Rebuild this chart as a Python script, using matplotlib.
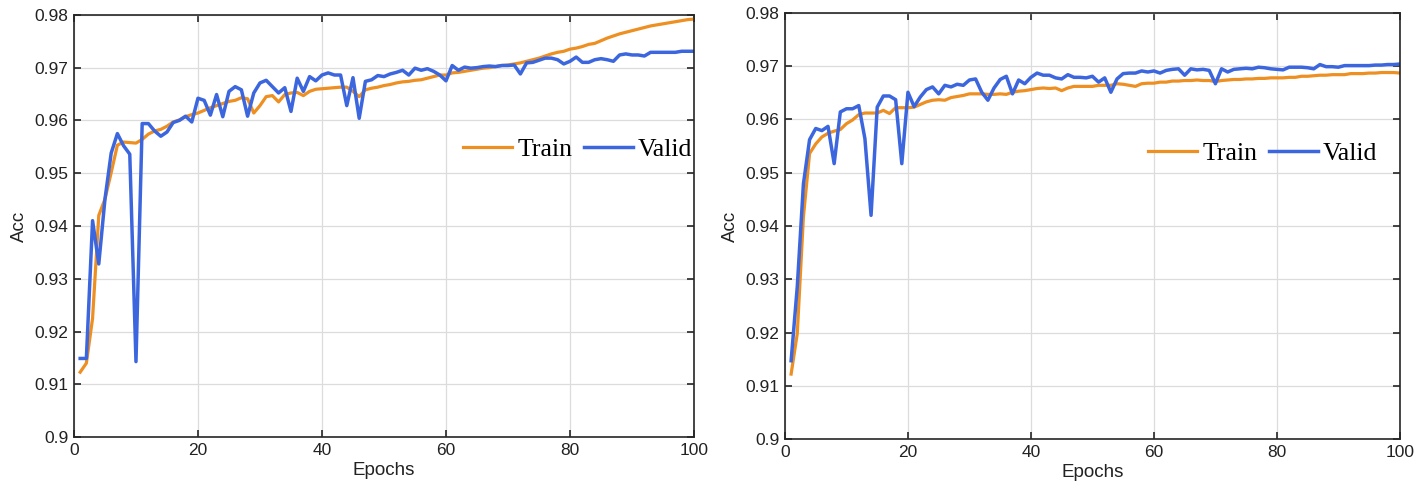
import numpy as np
import matplotlib
matplotlib.use("Agg")
import matplotlib.pyplot as plt
from matplotlib.ticker import FuncFormatter

# Epochs 1..100
epochs = np.arange(1, 101)

# Left panel
train_a = [0.9123, 0.9140, 0.9225, 0.9420, 0.9451, 0.9501, 0.9553, 0.9559, 0.9558, 0.9557,
           0.9564, 0.9574, 0.9580, 0.9583, 0.9589, 0.9597, 0.9601, 0.9607, 0.9611, 0.9614,
           0.9619, 0.9624, 0.9628, 0.9632, 0.9636, 0.9638, 0.9643, 0.9641, 0.9614, 0.9628,
           0.9645, 0.9647, 0.9635, 0.9649, 0.9652, 0.9653, 0.9647, 0.9655, 0.9659, 0.9660,
           0.9661, 0.9662, 0.9663, 0.9663, 0.9655, 0.9645, 0.9658, 0.9661, 0.9663, 0.9666,
           0.9668, 0.9671, 0.9673, 0.9674, 0.9676, 0.9677, 0.9680, 0.9683, 0.9686, 0.9686,
           0.9690, 0.9691, 0.9693, 0.9695, 0.9697, 0.9699, 0.9700, 0.9702, 0.9704, 0.9705,
           0.9707, 0.9709, 0.9712, 0.9715, 0.9718, 0.9722, 0.9726, 0.9729, 0.9731, 0.9735,
           0.9737, 0.9740, 0.9744, 0.9746, 0.9751, 0.9756, 0.9760, 0.9764, 0.9767, 0.9770,
           0.9773, 0.9776, 0.9779, 0.9781, 0.9783, 0.9785, 0.9787, 0.9789, 0.9791, 0.9792]
valid_a = [0.9149, 0.9149, 0.9410, 0.9328, 0.9451, 0.9538, 0.9575, 0.9552, 0.9536, 0.9143,
           0.9594, 0.9594, 0.9580, 0.9570, 0.9578, 0.9596, 0.9600, 0.9608, 0.9597, 0.9642,
           0.9638, 0.9610, 0.9649, 0.9607, 0.9655, 0.9664, 0.9658, 0.9608, 0.9652, 0.9671,
           0.9676, 0.9664, 0.9652, 0.9662, 0.9617, 0.9680, 0.9655, 0.9683, 0.9675, 0.9686,
           0.9690, 0.9686, 0.9686, 0.9628, 0.9681, 0.9604, 0.9674, 0.9677, 0.9685, 0.9683,
           0.9688, 0.9691, 0.9695, 0.9686, 0.9699, 0.9695, 0.9698, 0.9693, 0.9686, 0.9675,
           0.9704, 0.9695, 0.9701, 0.9699, 0.9700, 0.9702, 0.9703, 0.9702, 0.9704, 0.9704,
           0.9705, 0.9688, 0.9709, 0.9710, 0.9714, 0.9718, 0.9718, 0.9715, 0.9707, 0.9712,
           0.9720, 0.9710, 0.9710, 0.9715, 0.9717, 0.9715, 0.9712, 0.9724, 0.9726, 0.9724,
           0.9724, 0.9722, 0.9729, 0.9729, 0.9729, 0.9729, 0.9729, 0.9731, 0.9731, 0.9731]

# Right panel
train_b = [0.9122, 0.9198, 0.9417, 0.9536, 0.9554, 0.9567, 0.9574, 0.9578, 0.9581, 0.9592,
           0.9599, 0.9609, 0.9612, 0.9612, 0.9612, 0.9617, 0.9611, 0.9622, 0.9622, 0.9622,
           0.9623, 0.9628, 0.9633, 0.9636, 0.9637, 0.9636, 0.9641, 0.9643, 0.9645, 0.9648,
           0.9648, 0.9648, 0.9647, 0.9647, 0.9648, 0.9647, 0.9651, 0.9653, 0.9654, 0.9656,
           0.9658, 0.9659, 0.9658, 0.9659, 0.9654, 0.9659, 0.9662, 0.9662, 0.9662, 0.9662,
           0.9664, 0.9664, 0.9664, 0.9667, 0.9666, 0.9664, 0.9662, 0.9667, 0.9668, 0.9668,
           0.9670, 0.9670, 0.9672, 0.9672, 0.9673, 0.9673, 0.9674, 0.9673, 0.9673, 0.9671,
           0.9673, 0.9674, 0.9675, 0.9675, 0.9676, 0.9676, 0.9677, 0.9677, 0.9678, 0.9678,
           0.9678, 0.9679, 0.9679, 0.9681, 0.9681, 0.9682, 0.9683, 0.9683, 0.9684, 0.9684,
           0.9684, 0.9686, 0.9686, 0.9686, 0.9687, 0.9687, 0.9688, 0.9688, 0.9688, 0.9687]
valid_b = [0.9147, 0.9286, 0.9479, 0.9562, 0.9583, 0.9579, 0.9587, 0.9517, 0.9614, 0.9620,
           0.9620, 0.9626, 0.9564, 0.9420, 0.9623, 0.9644, 0.9644, 0.9637, 0.9517, 0.9651,
           0.9624, 0.9642, 0.9656, 0.9661, 0.9648, 0.9664, 0.9661, 0.9666, 0.9664, 0.9674,
           0.9676, 0.9651, 0.9636, 0.9659, 0.9675, 0.9681, 0.9648, 0.9674, 0.9667, 0.9679,
           0.9687, 0.9683, 0.9683, 0.9678, 0.9676, 0.9684, 0.9679, 0.9679, 0.9678, 0.9681,
           0.9670, 0.9678, 0.9651, 0.9676, 0.9686, 0.9687, 0.9687, 0.9691, 0.9689, 0.9691,
           0.9687, 0.9692, 0.9694, 0.9695, 0.9683, 0.9695, 0.9693, 0.9694, 0.9692, 0.9667,
           0.9695, 0.9689, 0.9694, 0.9695, 0.9696, 0.9695, 0.9698, 0.9697, 0.9695, 0.9694,
           0.9693, 0.9698, 0.9698, 0.9698, 0.9697, 0.9695, 0.9703, 0.9699, 0.9699, 0.9698,
           0.9701, 0.9701, 0.9701, 0.9701, 0.9701, 0.9702, 0.9702, 0.9703, 0.9703, 0.9704]

ORANGE = '#EE8F22'
BLUE = '#3C66DE'
EDGE = '#262626'

plt.rcParams['font.family'] = ['Liberation Sans', 'DejaVu Sans']


def tick_fmt(v, pos):
    # MATLAB-like: 0.9, 0.91, ... 0.98
    s = f'{v:.2f}'
    return s.rstrip('0').rstrip('.') if s.endswith('0') else s


fig = plt.figure(figsize=(14.28, 4.95), dpi=100)
ax1 = fig.add_axes([0.0518, 0.117, 0.4342, 0.853])
ax2 = fig.add_axes([0.5497, 0.113, 0.4306, 0.861])

panels = [(ax1, train_a, valid_a, (0.997, 0.68)),
          (ax2, train_b, valid_b, (0.963, 0.671))]
for ax, tr, va, anchor in panels:
    ax.plot(epochs, tr, color=ORANGE, lw=2.3, label='Train')
    ax.plot(epochs, va, color=BLUE, lw=2.5, label='Valid')
    ax.set_xlim(0, 100)
    ax.set_ylim(0.9, 0.98)
    ax.set_xticks(np.arange(0, 101, 20))
    ax.set_yticks(np.arange(0.9, 0.9801, 0.01))
    ax.yaxis.set_major_formatter(FuncFormatter(tick_fmt))
    ax.grid(True, color='#dcdcdc', lw=0.9)
    ax.set_axisbelow(True)
    ax.tick_params(direction='in', top=True, right=True, length=5, width=1.2,
                   color=EDGE, labelsize=12.5, labelcolor='#222222', pad=4)
    for s in ax.spines.values():
        s.set_color(EDGE)
        s.set_linewidth(1.2)
    ax.set_xlabel('Epochs', fontsize=13.5, color='#222222', labelpad=3)
    ax.set_ylabel('Acc', fontsize=13.5, color='#222222', labelpad=5)
    ax.legend(loc='center right', bbox_to_anchor=anchor, ncol=2, frameon=False,
              prop={'family': 'Liberation Serif', 'size': 18.5}, handlelength=1.9,
              handletextpad=0.2, columnspacing=0.45, borderaxespad=0.0, borderpad=0.0)

fig.savefig('out.png', dpi=100)
